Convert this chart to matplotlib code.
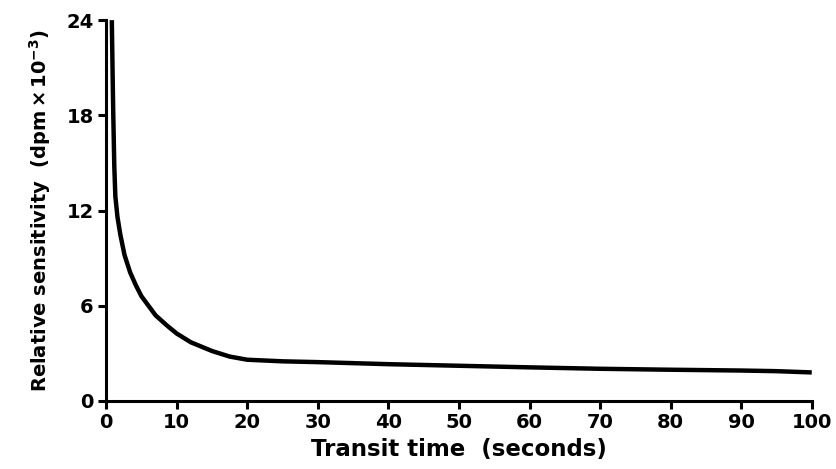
import numpy as np
import matplotlib.pyplot as plt

# values
transit_time = [0.8, 0.9, 1.0, 1.15, 1.3, 1.6, 2.0, 2.6, 3.4, 4.2, 5.0, 6.0, 7.0,
                8.5, 10, 12, 15, 17.5, 20, 25, 30, 40, 50, 60, 70, 80, 90, 95, 100]
sensitivity = [24, 21, 18.2, 14.8, 12.9, 11.6, 10.5, 9.2, 8.1, 7.3, 6.6, 6.0, 5.4,
               4.8, 4.25, 3.7, 3.15, 2.8, 2.6, 2.5, 2.45, 2.32, 2.22, 2.12, 2.03,
               1.97, 1.92, 1.88, 1.8]
x_ticks = [0, 10, 20, 30, 40, 50, 60, 70, 80, 90, 100]
y_ticks = [0, 6, 12, 18, 24]

plt.rcParams['font.family'] = ['DejaVu Sans']
fig = plt.figure(figsize=(8.36, 4.69), dpi=100)
ax = fig.add_axes([0.127, 0.145, 0.844, 0.812])

ax.plot(transit_time, sensitivity, color='black', lw=3.2, solid_capstyle='butt')

ax.set_xlim(0, 100)
ax.set_ylim(0, 24)
ax.set_xticks(x_ticks)
ax.set_yticks(y_ticks)
for s in ['top', 'right']:
    ax.spines[s].set_visible(False)
for s in ['left', 'bottom']:
    ax.spines[s].set_linewidth(2.2)
ax.tick_params(axis='both', direction='out', length=6, width=2.2,
               labelsize=14, pad=3)
for lab in ax.get_xticklabels() + ax.get_yticklabels():
    lab.set_fontweight('bold')

ax.set_xlabel("Transit time  (seconds)", fontsize=16.5, fontweight='bold', labelpad=4)
ax.set_ylabel(r"Relative sensitivity  (dpm$\,\mathbf{\times}\,$10$^{\mathbf{-3}}$)",
              fontsize=14, fontweight='bold', labelpad=10)

fig.savefig("out.png", dpi=100)
